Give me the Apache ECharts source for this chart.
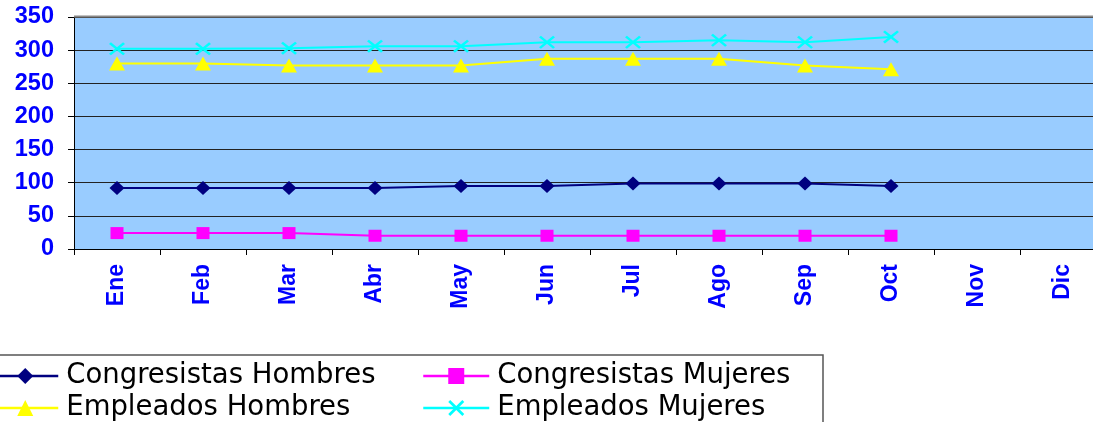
<!DOCTYPE html>
<html><head><meta charset="utf-8">
<script src="https://cdn.jsdelivr.net/npm/echarts@6/dist/echarts.min.js"></script>
<style>html,body{margin:0;padding:0;background:#fff}#c{width:1093px;height:422px}</style>
</head><body><div id="c"></div>
<script>
const months = ['Ene','Feb','Mar','Abr','May','Jun','Jul','Ago','Sep','Oct','Nov','Dic'];
const yTicks = [0,50,100,150,200,250,300,350];
const congresistasHombres = [92,92,92,92,95,95,99,99,99,95];
const congresistasMujeres = [24,24,24,20,20,20,20,20,20,20];
const empleadosHombres = [280,280,277,277,277,287,287,287,277,271];
const empleadosMujeres = [302,302,303,306,306,312,312,315,312,320];
const seriesNames = ['Congresistas Hombres','Congresistas Mujeres','Empleados Hombres','Empleados Mujeres'];

const xPath = 'path://M0,1.2L1.2,0L5,3.8L8.8,0L10,1.2L6.2,5L10,8.8L8.8,10L5,6.2L1.2,10L0,8.8L3.8,5Z';
const chart = echarts.init(document.getElementById('c'));
const legendText = {fontFamily:'DejaVu Sans, sans-serif', fontSize:27.5, color:'#000', padding:[0,0,0,3]};
chart.setOption({
  animation:false,
  grid:{left:74, top:17, width:1032, height:232, outerBoundsMode:'none', containLabel:false, show:true, backgroundColor:'#99CCFF', borderWidth:0},
  xAxis:{type:'category', data:months, boundaryGap:true,
    axisLine:{lineStyle:{color:'#000', width:1}},
    axisTick:{show:true, alignWithLabel:false, length:6, lineStyle:{color:'#000'}},
    axisLabel:{rotate:90, margin:15, color:'#0000FF', fontWeight:'bold', fontSize:23, fontFamily:'Liberation Sans, Arial, sans-serif', interval:0}},
  yAxis:{type:'value', min:yTicks[0], max:yTicks[yTicks.length-1], interval:50,
    axisLine:{show:true, lineStyle:{color:'#000'}},
    axisTick:{show:true, length:6, lineStyle:{color:'#000'}},
    splitLine:{show:true, lineStyle:{color:'#222', width:1}},
    axisLabel:{margin:20, color:'#0000FF', fontWeight:'bold', fontSize:23.5, fontFamily:'Liberation Sans, Arial, sans-serif'}},
  legend:[
    {data:[seriesNames[0], seriesNames[2]], orient:'vertical', left:-9, top:362, padding:0, itemGap:4, itemWidth:66, itemHeight:20, lineStyle:{width:2.5}, textStyle:legendText},
    {data:[seriesNames[1], seriesNames[3]], orient:'vertical', left:422, top:362, padding:0, itemGap:4, itemWidth:66, itemHeight:20, lineStyle:{width:2.5}, textStyle:legendText}
  ],
  graphic:[
    {type:'rect', shape:{x:-2, y:355, width:825, height:80}, style:{fill:'none', stroke:'#555', lineWidth:1.5}, z:-1},
    {type:'line', shape:{x1:74, y1:16.5, x2:1093, y2:16.5}, style:{stroke:'#888', lineWidth:2}, z:10}
  ],
  series:[
    {name:seriesNames[0], type:'line', data:congresistasHombres, symbol:'diamond', symbolSize:[15,14], showAllSymbol:true,
      lineStyle:{color:'#000080', width:2}, itemStyle:{color:'#000080'}},
    {name:seriesNames[1], type:'line', data:congresistasMujeres, symbol:'rect', symbolSize:[13,12],
      lineStyle:{color:'#FF00FF', width:2}, itemStyle:{color:'#FF00FF'}},
    {name:seriesNames[2], type:'line', data:empleadosHombres, symbol:'triangle', symbolSize:[16,14],
      lineStyle:{color:'#FFFF00', width:2}, itemStyle:{color:'#FFFF00'}},
    {name:seriesNames[3], type:'line', data:empleadosMujeres, symbol:xPath, symbolSize:[16,13],
      lineStyle:{color:'#00FFFF', width:2}, itemStyle:{color:'#00FFFF'}}
  ]
});
</script></body></html>
